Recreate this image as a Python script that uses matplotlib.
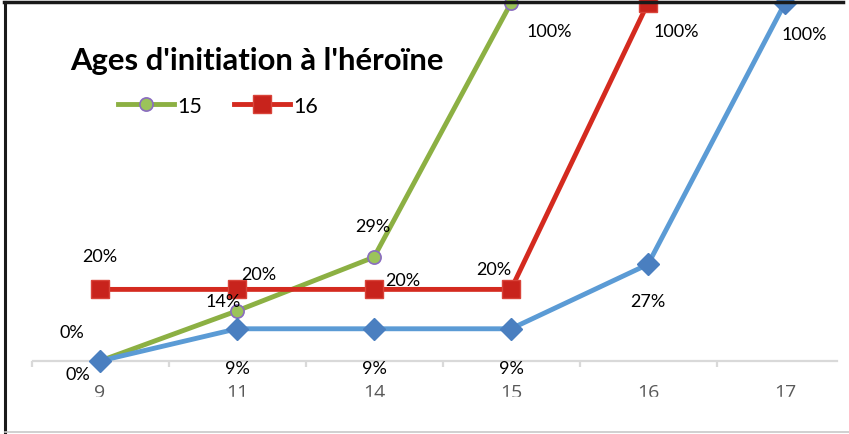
import matplotlib.pyplot as plt
from matplotlib.lines import Line2D
from matplotlib.patches import Rectangle

# chart data
categories = ['9', '11', '14', '15', '16', '17']
ages_15 = [0, 14, 29, 100]
ages_16 = [20, 20, 20, 20, 100]
ages_17 = [0, 9, 9, 9, 27, 100]

title = "Ages d'initiation à l'héroïne"

# label offsets in pixels (dx, dy) for each point
off_15 = [(-28, 29), (-14, 10), (-1, 31), (38, -28)]
off_16 = [(0, 33), (22, 15), (29, 9), (-17, 20), (28, -28)]
off_17 = [(-22, -13), (0, -39), (0, -39), (0, -39), (0, -37), (19, -31)]

W, H = 849, 435
fig = plt.figure(figsize=(W / 100, H / 100), dpi=100)
ax = fig.add_axes([0, 0, 1, 1])

# pixel mapping of the original: category i at x=100+137*i, 0% at y=362, 3.58 px per %
x0, step = 100, 137
y0, ppu = 362, 3.58
ax.set_xlim(-x0 / step, (W - x0) / step)
ax.set_ylim((y0 - H) / ppu, y0 / ppu)
ax.axis('off')

green = '#8cb043'
red = '#d42a1f'
blue = '#5b9bd5'

# category axis
axis_col = '#d9d9d9'
ax.plot([-0.49, 5.38], [0, 0], color=axis_col, lw=1.6, zorder=1)
ax.vlines([i - 0.5 for i in range(len(categories))], -6 / ppu, 0, color=axis_col, lw=1.6, zorder=1)
for i, c in enumerate(categories):
    ax.text(i, -31 / ppu, c, ha='center', va='center', fontsize=14,
            color='#595959', family='Open Sans', zorder=1)

l15, = ax.plot(range(len(ages_15)), ages_15, color=green, lw=3.5, marker='o', ms=9.5,
               mfc='#9bc35a', mec='#8a6cc0', mew=1.2, label='15', zorder=3, clip_on=False)
l16, = ax.plot(range(len(ages_16)), ages_16, color=red, lw=3.5, marker='s', ms=12.5,
               mfc='#c8231c', mec='#d9443a', mew=1, label='16', zorder=4, clip_on=False)
l17, = ax.plot(range(len(ages_17)), ages_17, color=blue, lw=3.5, marker='D', ms=11,
               mfc='#4a7fc0', mec='#4a7fc0', label='17', zorder=5, clip_on=False)

for series, offs in [(ages_15, off_15), (ages_16, off_16), (ages_17, off_17)]:
    for i, (v, o) in enumerate(zip(series, offs)):
        ax.annotate(f'{v}%', (i, v), xytext=o, textcoords='offset pixels',
                    ha='center', va='center', fontsize=13, family='Lato', zorder=6)

ax.legend(handles=[l15, l16], loc='center left', bbox_to_anchor=(118 / W, 1 - 107 / H),
          bbox_transform=fig.transFigure, ncol=2, frameon=False,
          prop={'family': 'Lato', 'size': 15.5}, handlelength=2.6, handletextpad=0.15,
          columnspacing=1.5, borderpad=0, borderaxespad=0)

fig.text(70 / W, 1 - 61 / H, title, ha='left', va='center', fontsize=22.3,
         fontweight='bold', family='Lato')

# cropped bottom of the tick labels and the frame of the screenshot
fig.add_artist(Rectangle((0, 3 / H), 1, (432 - 398) / H, transform=fig.transFigure,
                         color='white', zorder=10))
fig.add_artist(Line2D([5 / W, 5 / W], [1 - 3 / H, 1 - 433 / H], color='#1a1a1a', lw=2.2,
                      transform=fig.transFigure, zorder=11))
fig.add_artist(Line2D([4 / W, 843 / W], [1 - 2.5 / H, 1 - 2.5 / H], color='#1a1a1a', lw=2.5,
                      transform=fig.transFigure, zorder=11))
fig.add_artist(Line2D([5 / W, 1], [1 - 433 / H, 1 - 433 / H], color='#c8c8c8', lw=1.2,
                      transform=fig.transFigure, zorder=11))

fig.savefig('out.png', dpi=100)
